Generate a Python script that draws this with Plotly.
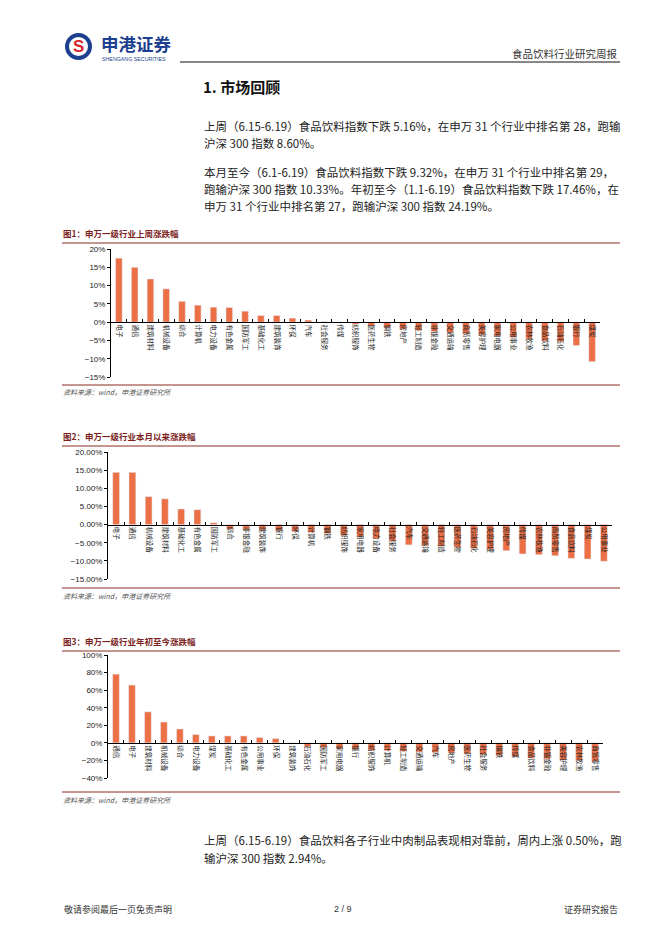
import plotly.graph_objects as go

W, H = 662, 936
FONT_CN = "Noto Sans CJK SC"
FONT_EN = "Liberation Sans"
BAR_COLOR = "#EC7046"
RED_LINE = "#8B2A1E"
CAPTION = "#7A1E1E"

# 图1：上周涨跌幅 (%)
week_cats = ["电子", "通信", "建筑材料", "机械设备", "综合", "计算机", "电力设备", "有色金属",
             "国防军工", "基础化工", "建筑装饰", "环保", "汽车", "社会服务", "传媒", "纺织服饰",
             "医药生物", "钢铁", "房地产", "轻工制造", "非银金融", "交通运输", "商贸零售", "美容护理",
             "家用电器", "公用事业", "农林牧渔", "食品饮料", "石油石化", "银行", "煤炭"]
week_vals = [17.5, 15.0, 11.8, 9.1, 5.7, 4.65, 4.1, 4.0, 3.0, 1.8, 1.8, 1.1, 0.56, 0.1, -0.2, -0.6,
             -1.1, -1.5, -1.9, -2.3, -2.6, -2.9, -3.2, -3.5, -3.8, -4.2, -4.6, -5.16, -5.4, -6.4, -10.8]

# 图2：本月以来涨跌幅 (%)
month_cats = ["电子", "通信", "机械设备", "建筑材料", "基础化工", "有色金属", "国防军工", "综合",
              "非银金融", "建筑装饰", "银行", "环保", "计算机", "钢铁", "纺织服饰", "家用电器",
              "电力设备", "社会服务", "汽车", "交通运输", "轻工制造", "医药生物", "石油石化", "美容护理",
              "房地产", "传媒", "农林牧渔", "商贸零售", "食品饮料", "煤炭", "公用事业"]
month_vals = [14.4, 14.4, 7.7, 7.1, 4.3, 4.1, 0.5, -1.3, -1.4, -1.5, -1.7, -1.9, -2.2, -2.5, -3.0, -3.4,
              -3.9, -4.6, -5.6, -5.8, -6.0, -6.3, -6.6, -6.9, -7.2, -8.1, -8.3, -8.6, -9.32, -9.5, -10.1]

# 图3：年初至今涨跌幅 (%)
ytd_cats = ["通信", "电子", "建筑材料", "机械设备", "综合", "电力设备", "煤炭", "基础化工",
            "有色金属", "公用事业", "环保", "建筑装饰", "石油石化", "国防军工", "家用电器", "银行",
            "纺织服饰", "计算机", "轻工制造", "交通运输", "汽车", "房地产", "医药生物", "社会服务",
            "钢铁", "传媒", "食品饮料", "非银金融", "美容护理", "农林牧渔", "商贸零售"]
ytd_vals = [78.2, 65.8, 35.3, 23.7, 15.8, 9.4, 7.9, 7.9, 7.9, 6.0, 4.9, -0.5, -4.5, -5.5, -6.5, -7.5,
            -8.5, -9.0, -9.8, -10.5, -11.0, -11.5, -12.5, -13.5, -14.5, -15.5, -17.46, -18.5, -19.5,
            -20.0, -21.0]


def px(x):
    return x / W


def py(y):
    return 1 - y / H


fig = go.Figure()

# pixel boxes of the three charts
charts = [
    dict(cats=week_cats, vals=week_vals, x0=111, x1=600, top=249, bottom=377,
         rng=[-15, 20], dtick=5, fmt=".0f"),
    dict(cats=month_cats, vals=month_vals, x0=108, x1=612, top=452, bottom=579,
         rng=[-15, 20], dtick=5, fmt=".2f"),
    dict(cats=ytd_cats, vals=ytd_vals, x0=108, x1=603, top=655, bottom=778,
         rng=[-40, 100], dtick=20, fmt=".0f"),
]

for i, c in enumerate(charts, start=1):
    sfx = "" if i == 1 else str(i)
    fig.add_trace(go.Bar(x=c["cats"], y=c["vals"], marker_color=BAR_COLOR,
                         xaxis="x" + sfx, yaxis="y" + sfx, showlegend=False))
    lo, hi = c["rng"]
    zero_px = c["top"] + hi / (hi - lo) * (c["bottom"] - c["top"])
    fig.layout["xaxis" + sfx] = dict(
        domain=[px(c["x0"]), px(c["x1"])], anchor="free", position=py(zero_px),
        type="category", showline=True, linecolor="#000", linewidth=1,
        ticks="inside", ticklen=3, tickcolor="#000", tickson="boundaries",
        tickangle=90, tickfont=dict(family=FONT_CN, size=6.5, color="#222"),
        showgrid=False, zeroline=False, fixedrange=True)
    fig.layout["yaxis" + sfx] = dict(
        domain=[py(c["bottom"]), py(c["top"])], anchor="x" + sfx, range=c["rng"],
        dtick=c["dtick"], tickformat=c["fmt"], ticksuffix="%",
        showline=True, linecolor="#000", linewidth=1, ticks="outside", ticklen=3,
        tickcolor="#000", tickfont=dict(family=FONT_EN, size=8, color="#222"),
        showgrid=False, zeroline=False, fixedrange=True)

shapes = []
annotations = []


def text(x, y, s, size=11, color="#222", anchor="left", family=FONT_CN):
    annotations.append(dict(x=px(x), y=py(y), xref="paper", yref="paper", text=s,
                            showarrow=False, xanchor=anchor, yanchor="middle",
                            font=dict(family=family, size=size, color=color)))


def hline(y, x0, x1, color, width=1):
    shapes.append(dict(type="line", xref="paper", yref="paper", x0=px(x0), x1=px(x1),
                       y0=py(y), y1=py(y), line=dict(color=color, width=width)))


# header logo
shapes.append(dict(type="circle", xref="paper", yref="paper",
                   x0=px(67), x1=px(90), y0=py(58), y1=py(35),
                   fillcolor="white", line=dict(color="#1D3F8F", width=4)))
text(78.5, 46.5, "<b>S</b>", size=17, color="#D6262B", anchor="center", family=FONT_EN)
text(99, 43, "<b>申港证券</b>", size=17.5, color="#1D3F8F")
text(100, 59, "SHENGANG SECURITIES", size=5.3, color="#1D3F8F", family=FONT_EN)
hline(62, 180, 620, "#111", 1.2)
text(620, 53, "食品饮料行业研究周报", size=10.5, color="#333", anchor="right")

# section title and paragraphs
text(201, 86, "<b>1. 市场回顾</b>", size=15, color="#111")
para = [
    (126, "上周（6.15-6.19）食品饮料指数下跌 5.16%，在申万 31 个行业中排名第 28，跑输"),
    (143, "沪深 300 指数 8.60%。"),
    (172, "本月至今（6.1-6.19）食品饮料指数下跌 9.32%，在申万 31 个行业中排名第 29，"),
    (189, "跑输沪深 300 指数 10.33%。年初至今（1.1-6.19）食品饮料指数下跌 17.46%，在"),
    (206, "申万 31 个行业中排名第 27，跑输沪深 300 指数 24.19%。"),
    (840, "上周（6.15-6.19）食品饮料各子行业中肉制品表现相对靠前，周内上涨 0.50%，跑"),
    (858, "输沪深 300 指数 2.94%。"),
]
for y, s in para:
    text(202, y, s, size=11.5)

# chart captions, rules and sources
captions = [
    (233, 243, 385, 392, "图1：申万一级行业上周涨跌幅"),
    (436, 446, 588, 596, "图2：申万一级行业本月以来涨跌幅"),
    (641, 651, 792, 800, "图3：申万一级行业年初至今涨跌幅"),
]
for cy, ly, by, sy, s in captions:
    text(61, cy, "<b>" + s + "</b>", size=8.5, color=CAPTION)
    hline(ly, 62, 620, RED_LINE, 1)
    hline(by, 62, 620, RED_LINE, 1)
    text(61, sy, "<i>资料来源：wind，申港证券研究所</i>", size=7, color="#555")

# footer
text(62, 909, "敬请参阅最后一页免责声明", size=9, color="#333")
text(343, 909, "2 / 9", size=9, color="#333", anchor="center", family=FONT_EN)
text(620, 909, "证券研究报告", size=9, color="#333", anchor="right")

fig.update_layout(
    width=W, height=H,
    margin=dict(l=0, r=0, t=0, b=0, autoexpand=False),
    paper_bgcolor="white", plot_bgcolor="white",
    bargap=0.58,
    shapes=shapes, annotations=annotations,
    showlegend=False,
)

# the page body has a default 8px margin; drop it so the figure fills the window
fig.write_html("out.html", config={"displayModeBar": False},
               post_script="document.body.style.margin='0';")
